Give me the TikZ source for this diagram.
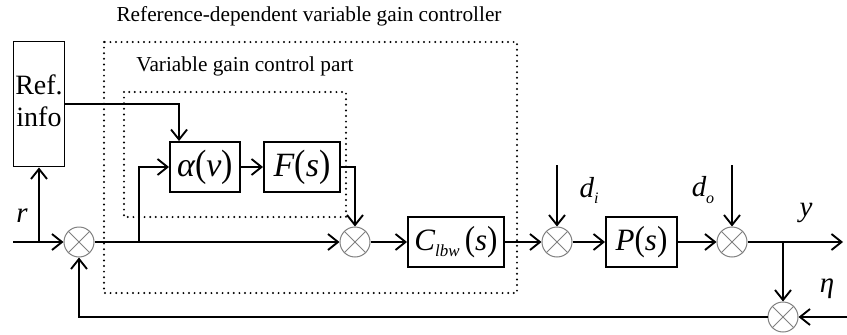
\documentclass[tikz,border=0pt]{standalone}
\usepackage{fontspec}
\setmainfont{Liberation Serif}
\usetikzlibrary{arrows.meta,calc}

% large lettering: set at a moderate size, then enlarged
\newcommand{\enl}[1]{\scalebox{1.6}{#1}}
% subscript in text italics
\newcommand{\lowsub}[2]{{\fontsize{#2}{#2}\selectfont\raisebox{-3.8pt}{\itshape #1}}}
\newcommand{\bigpar}[1]{\scalebox{1}[1.12]{#1}}

\begin{document}
\begin{tikzpicture}[x=1pt,y=-1pt,
  line width=1.9pt,
  sig/.style={-{Straight Barb[length=10pt,width=16pt,line width=1.9pt]}},
  blk/.style={draw, line width=1.9pt, minimum height=50pt, inner sep=0pt},
  bigm/.style={font=\fontsize{21.25}{23}\selectfont},
  midm/.style={font=\fontsize{19.4}{21}\selectfont},
  sumj/.style={circle, draw=black!50, line width=1pt, minimum size=30pt,
    inner sep=0pt,
    path picture={\draw[black!50, line width=1pt]
      (path picture bounding box.north west) -- (path picture bounding box.south east)
      (path picture bounding box.north east) -- (path picture bounding box.south west);}},
  grp/.style={draw, line width=2.2pt, dash pattern=on 0pt off 5.6pt, line cap=round},
  lbl/.style={font=\fontsize{18.1}{20}\selectfont\itshape, inner sep=0pt},
  ttl/.style={font=\fontsize{21.3}{24}\selectfont, inner sep=0pt},
]
\useasboundingbox (0,0) rectangle (847,335);

% titles and grouping frames
\node[ttl] (t1) at (309,16) {Reference-dependent variable gain controller};
\node[ttl] (t2) at (245,66) {Variable gain control part};
\draw[grp] (104,42) rectangle (517,293);
\draw[grp] (124,92) rectangle (346,217);

% blocks
\node[blk, minimum width=51pt, minimum height=125pt,
  font=\fontsize{17.5}{20}\selectfont] (ref) at (39,104)
  {\enl{\begin{tabular}{@{}c@{}}Ref.\\info\end{tabular}}};
\node[blk, bigm, minimum width=70pt] (al) at (205,167)
  {\enl{{\itshape α}\bigpar{(}{\itshape v}\bigpar{)}}};
\node[blk, bigm, minimum width=76pt] (F) at (302,167)
  {\enl{{\itshape F}\bigpar{(}{\itshape s}\bigpar{)}}};
\node[blk, midm, minimum width=96pt] (C) at (456,242)
  {\enl{{\itshape C}\lowsub{lbw}{10.6}\,\bigpar{(}{\itshape s}\bigpar{)}}};
\node[blk, midm, minimum width=71pt] (P) at (641.5,242)
  {\enl{{\itshape P}\bigpar{(}{\itshape s}\bigpar{)}}};

% summing junctions
\node[sumj] (s1) at (79,242) {};
\node[sumj] (s2) at (355,242) {};
\node[sumj] (s3) at (557,242) {};
\node[sumj] (s4) at (732,242) {};
\node[sumj] (s5) at (783,317) {};

% free ends and branch points
\coordinate (rin) at (13,242);
\coordinate (rb) at (39,242);
\coordinate (ab) at (139,242);
\coordinate (yb) at (783,242);
\coordinate (yout) at (843,242);
\coordinate (etain) at (847,317);
\coordinate (dit) at (557,165);
\coordinate (dot) at (732,165);

% signal connections
\draw[sig] (rin) -- (s1);
\draw[sig] (rb) -- (ref.south);
\draw[sig] (ref.east) -| ([xshift=10pt]al.north west);
\draw[sig] (s1) -- (s2);
\draw[sig] (ab) |- (al.west);
\draw[sig] (al) -- (F);
\draw[sig] (F.east) -| (s2);
\draw[sig] (s2) -- (C);
\draw[sig] (C) -- (s3);
\draw[sig] (dit) -- (s3);
\draw[sig] (s3) -- (P);
\draw[sig] (P) -- (s4);
\draw[sig] (dot) -- (s4);
\draw[sig] (s4) -- (yout);
\draw[sig] (yb) -- (s5);
\draw[sig] (etain) -- (s5);
\draw[sig] (s5) -| (s1);

% signal labels
\node[lbl] (rl) at (22,216) {\enl{r}};
\node[lbl] (dil) at (589,190) {\enl{d\lowsub{i}{10}}};
\node[lbl] (dol) at (703,190) {\enl{d\lowsub{o}{10}}};
\node[lbl] (yl) at (806,213) {\enl{y}};
\node[lbl] (etal) at (827,289) {\enl{η}};
\end{tikzpicture}
\end{document}
